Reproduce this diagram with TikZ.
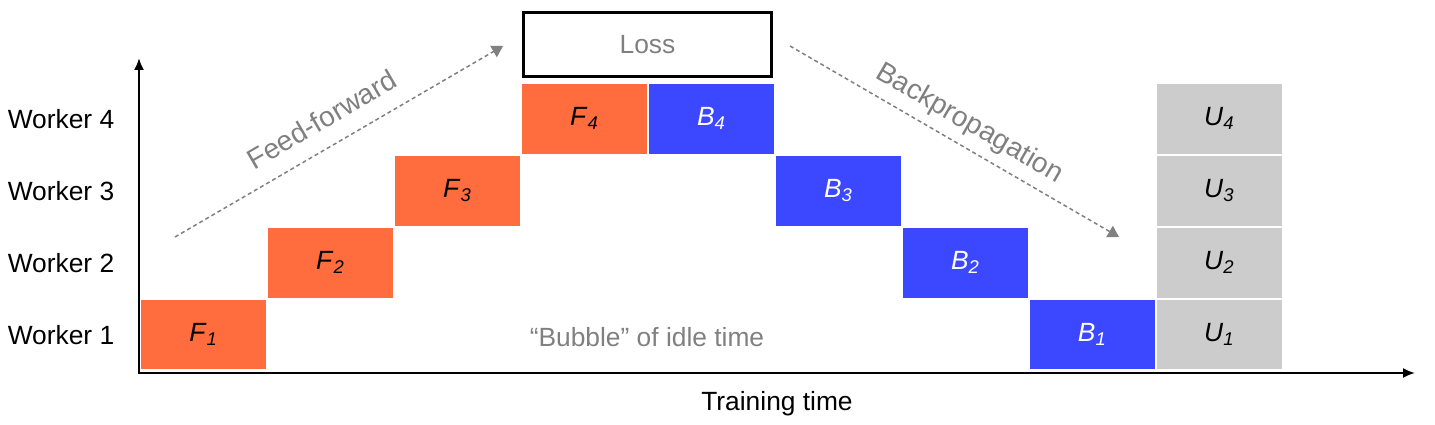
\documentclass[tikz,border=0pt]{standalone}
\usepackage{fontspec}
\setmainfont{Liberation Sans}
\usetikzlibrary{positioning,arrows.meta}

\definecolor{fwdorange}{RGB}{255,108,61}
\definecolor{bwdblue}{RGB}{60,72,255}
\definecolor{updgray}{RGB}{204,204,204}
\definecolor{labelgray}{RGB}{128,128,128}

\newcommand{\stagelbl}[2]{\textit{#1}\textsubscript{\textit{#2}}}

\begin{document}
\begin{tikzpicture}[x=0.02cm, y=-0.02cm, font=\fontsize{15}{18}\selectfont]
    \tikzstyle{task} = [rectangle, minimum width=2.5cm, minimum height=1.4cm, inner sep=0pt, outer sep=0pt]
    \tikzstyle{fwd} = [task, fill=fwdorange]
    \tikzstyle{bwd} = [task, fill=bwdblue, text=white]
    \tikzstyle{upd} = [task, fill=updgray]
    \tikzstyle{lossbox} = [rectangle, draw, line width=1.4pt, minimum width=4.96cm, minimum height=1.28cm, text=labelgray]
    \tikzstyle{axis} = [draw, line width=1.1pt, {Latex[length=0.24cm,width=0.2cm]}-{Latex[length=0.24cm,width=0.2cm]}]
    \tikzstyle{flow} = [draw, labelgray, line width=0.85pt, dash pattern=on 2.3pt off 1.7pt, -{Triangle[length=0.22cm,width=0.26cm]}]

    \useasboundingbox (0,0) rectangle (1435,425);

    % axes
    \coordinate (ytop) at (139,58);
    \coordinate (origin) at (139,373);
    \coordinate (xend) at (1415,373);
    \draw [axis] (ytop) -- (origin) -- (xend);
    \node (xlabel) at (777,404) {Training time};

    % forward pass
    \node [fwd] (f1) at (203.5,334.5) {\stagelbl{F}{1}};
    \node [fwd, above right=0.04cm and 0.04cm of f1] (f2) {\stagelbl{F}{2}};
    \node [fwd, above right=0.04cm and 0.04cm of f2] (f3) {\stagelbl{F}{3}};
    \node [fwd, above right=0.04cm and 0.04cm of f3] (f4) {\stagelbl{F}{4}};

    % backward pass
    \node [bwd, right=0.04cm of f4] (b4) {\stagelbl{B}{4}};
    \node [bwd, below right=0.04cm and 0.04cm of b4] (b3) {\stagelbl{B}{3}};
    \node [bwd, below right=0.04cm and 0.04cm of b3] (b2) {\stagelbl{B}{2}};
    \node [bwd, below right=0.04cm and 0.04cm of b2] (b1) {\stagelbl{B}{1}};

    % updates
    \node [upd, right=0.04cm of b1] (u1) {\stagelbl{U}{1}};
    \node [upd, above=0.04cm of u1] (u2) {\stagelbl{U}{2}};
    \node [upd, above=0.04cm of u2] (u3) {\stagelbl{U}{3}};
    \node [upd, above=0.04cm of u3] (u4) {\stagelbl{U}{4}};

    \node [lossbox] (loss) at (647.5,44.5) {Loss};
    \node [text=labelgray] (bubble) at (647,337) {“Bubble” of idle time};

    % workers
    \node (w1) at (61,335) {Worker 1};
    \node (w2) at (61,263) {Worker 2};
    \node (w3) at (61,191) {Worker 3};
    \node (w4) at (61,119) {Worker 4};

    % direction arrows
    \coordinate (ffstart) at (175,237);
    \coordinate (ffend) at (503,46);
    \coordinate (bpstart) at (790,46);
    \coordinate (bpend) at (1119,237);
    \draw [flow] (ffstart) -- node [pos=0.49, sloped, above=0.22cm, font=\fontsize{16}{19}\selectfont] (fflabel) {Feed-forward} (ffend);
    \draw [flow] (bpstart) -- node [pos=0.51, sloped, above=0.06cm, font=\fontsize{16}{19}\selectfont] (bplabel) {Backpropagation} (bpend);
\end{tikzpicture}
\end{document}
